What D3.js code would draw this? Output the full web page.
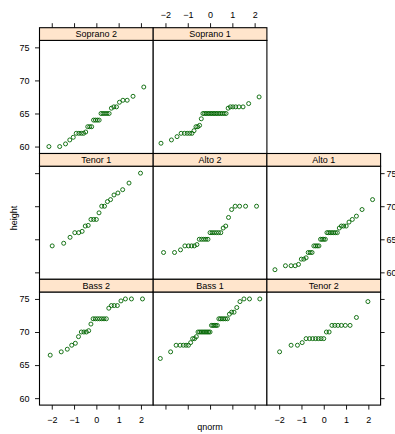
<!DOCTYPE html>
<html>
<head>
<meta charset="utf-8">
<script src="https://cdn.jsdelivr.net/npm/d3@7"></script>
<style>
html,body{margin:0;padding:0;background:#fff;}
svg{display:block;font-family:"Liberation Sans",Arial,Helvetica,sans-serif;}
</style>
</head>
<body>
<svg id="chart" width="395" height="434"></svg>
<script>
// ---- data (heights, sorted within each voice part) ----
const soprano2 = [60,60,60.4,61,61.4,62,62,62,62,62.2,63,63,63,64,64,64,64,65,65,65,65,65,65.8,66,66,66.7,67,67,67.6,69];
const soprano1 = [60.5,61,61.5,62,62,62,62,62,62.4,63,63,63.2,64.2,65,65,65,65,65,65,65,65,65,65,65,65,65,65,65,65.8,66,66,66,66,66,66.5,67.5];
const tenor1   = [64,64.4,65.3,66,66,66.2,67,67.1,68,68,68,69,70,70,70.7,71,71.7,72,72.5,73.5,75];
const alto2    = [63,63,63.4,64,64,64,64,64.2,65,65,65,65,65,66,66,66,66,66,66,66.7,67,68.3,69.5,70,70,70,70];
const alto1    = [60.4,61,61,61,61.2,62,62,62.2,63,63,63,64,64,64,64,65,65,65,65,66,66,66,66,66,66,66,66.7,67,67,67,67.6,68,68.5,69.5,71];
const bass2    = [66.5,67,67.4,68,68.3,69.3,70,70,70,70.2,71.2,72,72,72,72,72,72,72,73.6,74,74,74,74.7,75,75,75];
const bass1    = [66,67,68,68,68,68,68,68.4,69,69,69.3,70,70,70,70,70,70,70,70,70,71,71,71,71,71,72,72,72,72,72,72,72.7,73,73,73.7,74.6,75,75,75];
const tenor2   = [67,68,68,68.4,69,69,69,69,69,69,69,70,70,71,71,71,71,71,71,72.2,74.6];

// panel order, row by row from the top (null = empty cell)
const voiceParts = ["Soprano 2","Soprano 1",null,"Tenor 1","Alto 2","Alto 1","Bass 2","Bass 1","Tenor 2"];
const seriesByPart = {"Soprano 2":soprano2,"Soprano 1":soprano1,"Tenor 1":tenor1,"Alto 2":alto2,
  "Alto 1":alto1,"Bass 2":bass2,"Bass 1":bass1,"Tenor 2":tenor2};
const xTicks = [-2,-1,0,1,2];
const yTicks = [60,65,70,75];
const xLabel = "qnorm", yLabel = "height";

// ---- theoretical normal quantiles (qqmath: qnorm(ppoints(n))) ----
function qnorm(p){
  const a=[-3.969683028665376e+01,2.209460984245205e+02,-2.759285104469687e+02,1.383577518672690e+02,-3.066479806614716e+01,2.506628277459239e+00];
  const b=[-5.447609879822406e+01,1.615858368580409e+02,-1.556989798598866e+02,6.680131188771972e+01,-1.328068155288572e+01];
  const c=[-7.784894002430293e-03,-3.223964580411365e-01,-2.400758277161838e+00,-2.549732539343734e+00,4.374664141464968e+00,2.938163982698783e+00];
  const d=[7.784695709041462e-03,3.224671290700398e-01,2.445134137142996e+00,3.754408661907416e+00];
  const pl=0.02425;
  let q,r;
  if(p<pl){q=Math.sqrt(-2*Math.log(p));return (((((c[0]*q+c[1])*q+c[2])*q+c[3])*q+c[4])*q+c[5])/((((d[0]*q+d[1])*q+d[2])*q+d[3])*q+1);}
  if(p>1-pl){q=Math.sqrt(-2*Math.log(1-p));return -(((((c[0]*q+c[1])*q+c[2])*q+c[3])*q+c[4])*q+c[5])/((((d[0]*q+d[1])*q+d[2])*q+d[3])*q+1);}
  q=p-0.5;r=q*q;
  return (((((a[0]*r+a[1])*r+a[2])*r+a[3])*r+a[4])*r+a[5])*q/(((((b[0]*r+b[1])*r+b[2])*r+b[3])*r+b[4])*r+1);
}
function ppoints(n){const a=n<=10?3/8:0.5;return d3.range(1,n+1).map(i=>(i-a)/(n+1-2*a));}

// ---- layout ----
const svg = d3.select("#chart");
svg.append("rect").attr("width",395).attr("height",434).attr("fill","#fff");
const colLeft = [39.5,153.2,266.9], panelW = 113.7;
const rowTop = [27.7,153.5,279.3], stripH = 12.7, panelH = 113.1;
const xDomain = [-2.55,2.55], yDomain = [58.95,76.05];
const FONT = 9, TICK = 4.5;
const green = "#006400";
const fmt = d3.format("d");

function styleAxis(g){
  g.select(".domain").remove();
  g.selectAll(".tick line").attr("stroke","#000").attr("stroke-width",0.9);
  g.selectAll(".tick text").attr("fill","#000").attr("font-size",FONT).attr("font-family","Liberation Sans, Arial, sans-serif");
}

voiceParts.forEach((part,k)=>{
  if(!part) return;
  const r = Math.floor(k/3), c = k%3;
  const x0 = colLeft[c], top = rowTop[r], py = top+stripH;
  const x = d3.scaleLinear().domain(xDomain).range([x0,x0+panelW]);
  const y = d3.scaleLinear().domain(yDomain).range([py+panelH,py]);
  const g = svg.append("g");
  g.append("rect").attr("x",x0).attr("y",py).attr("width",panelW).attr("height",panelH)
    .attr("fill","#fff").attr("stroke","none");
  const vals = seriesByPart[part];
  const pp = ppoints(vals.length);
  g.selectAll("circle").data(vals).join("circle")
    .attr("cx",(d,i)=>x(qnorm(pp[i]))).attr("cy",d=>y(d)).attr("r",2)
    .attr("fill","none").attr("stroke",green).attr("stroke-width",0.9);
  g.append("rect").attr("x",x0).attr("y",py).attr("width",panelW).attr("height",panelH)
    .attr("fill","none").attr("stroke","#000").attr("stroke-width",1.1);
  g.append("rect").attr("x",x0).attr("y",top).attr("width",panelW).attr("height",stripH)
    .attr("fill","#ffe5cc").attr("stroke","#000").attr("stroke-width",1.1);
  g.append("text").attr("x",x0+panelW/2).attr("y",top+stripH/2+3.2).attr("text-anchor","middle")
    .attr("font-size",FONT).attr("fill","#000").text(part);

  // axes (lattice alternating pattern)
  if(c===0){
    const ax = d3.axisLeft(y).tickValues(yTicks).tickSize(TICK).tickPadding(5.5).tickFormat(r===1?"":fmt);
    svg.append("g").attr("transform",`translate(${x0},0)`).call(ax).call(styleAxis);
  }
  if(c===2){
    const ax = d3.axisRight(y).tickValues(yTicks).tickSize(4).tickPadding(1.8).tickFormat(r===1?fmt:"");
    svg.append("g").attr("transform",`translate(${x0+panelW},0)`).call(ax).call(styleAxis);
  }
  if(r===0){
    const ax = d3.axisTop(x).tickValues(xTicks).tickSize(TICK).tickPadding(5).tickFormat(c===1?fmt:"");
    svg.append("g").attr("transform",`translate(0,${top})`).call(ax).call(styleAxis);
  }
  if(r===2){
    const ax = d3.axisBottom(x).tickValues(xTicks).tickSize(TICK).tickPadding(7).tickFormat(c===1?"":fmt);
    svg.append("g").attr("transform",`translate(0,${py+panelH})`).call(ax).call(styleAxis);
  }
});

svg.append("text").attr("transform","translate(16.5,218) rotate(-90)").attr("text-anchor","middle")
  .attr("font-size",FONT).attr("fill","#000").text(yLabel);
svg.append("text").attr("x",210).attr("y",429.5).attr("text-anchor","middle")
  .attr("font-size",FONT).attr("fill","#000").text(xLabel);
</script>
</body>
</html>
